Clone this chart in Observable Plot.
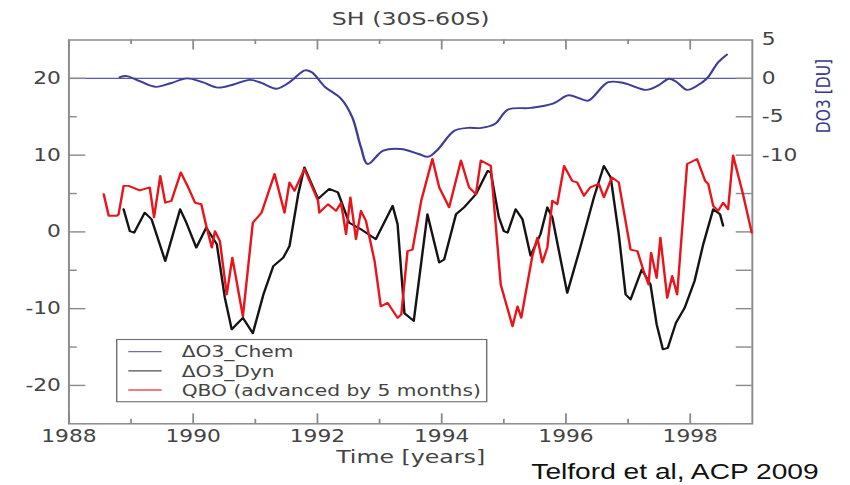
<!DOCTYPE html>
<html>
<head>
<meta charset="utf-8">
<script src="https://cdn.jsdelivr.net/npm/d3@7"></script>
<script src="https://cdn.jsdelivr.net/npm/@observablehq/plot@0.6"></script>
<style>
  html, body { margin: 0; padding: 0; background: #fff; }
  #chart { width: 850px; height: 485px; overflow: hidden; }
</style>
</head>
<body>
<div id="chart"></div>
<script>
// ΔO3 from chemistry (DU, right axis)
const chemYear = [1988.82, 1988.93, 1989.15, 1989.40, 1989.65, 1989.90, 1990.15, 1990.40, 1990.65, 1990.91,
  1991.10, 1991.34, 1991.55, 1991.80, 1991.91, 1992.12, 1992.38, 1992.56, 1992.70, 1992.81,
  1993.06, 1993.34, 1993.63, 1993.78, 1993.92, 1994.21, 1994.42, 1994.64, 1994.86, 1995.07,
  1995.43, 1995.79, 1996.04, 1996.22, 1996.36, 1996.68, 1996.93, 1997.29, 1997.48, 1997.66,
  1997.77, 1997.95, 1998.09, 1998.27, 1998.45, 1998.59];
const chemDU = [0.15, 0.3, -0.4, -1.1, -0.6, 0.0, -0.5, -1.2, -0.8, -0.2,
  -0.6, -1.35, -0.5, 1.05, 0.8, -1.1, -2.65, -5.06, -8.98, -11.15,
  -9.4, -9.2, -9.85, -10.2, -9.4, -6.8, -6.45, -6.45, -5.9, -4.05,
  -3.85, -3.3, -2.2, -2.6, -2.9, -0.5, -0.6, -1.5, -0.95, -0.05,
  -0.4, -1.5, -1.05, 0.0, 2.1, 3.1];

// ΔO3 from dynamics (left axis)
const dynYear = [1988.88, 1988.98, 1989.05, 1989.22, 1989.33, 1989.55, 1989.79, 1989.89, 1990.05, 1990.21,
  1990.38, 1990.51, 1990.62, 1990.80, 1990.96, 1991.13, 1991.29, 1991.45, 1991.55, 1991.69,
  1991.79, 1992.01, 1992.19, 1992.33, 1992.51, 1992.70, 1992.94, 1993.21, 1993.29, 1993.40,
  1993.55, 1993.77, 1993.96, 1994.04, 1994.23, 1994.36, 1994.55, 1994.74, 1994.79, 1994.92,
  1995.00, 1995.06, 1995.19, 1995.30, 1995.43, 1995.59, 1995.70, 1995.78, 1996.02, 1996.23,
  1996.45, 1996.61, 1996.72, 1996.85, 1996.96, 1997.04, 1997.22, 1997.36, 1997.46, 1997.56,
  1997.64, 1997.77, 1997.91, 1998.07, 1998.21, 1998.37, 1998.48, 1998.53];
const dynVal = [2.95, 0.1, -0.1, 2.5, 1.65, -3.8, 2.95, 1.2, -2.05, 0.55,
  -1.6, -8.6, -12.7, -11.2, -13.2, -8.15, -4.45, -3.35, -1.85, 4.9,
  8.4, 4.3, 5.6, 5.15, 1.2, 0.35, -0.95, 3.4, 1.0, -10.6,
  -11.6, 2.3, -4.0, -3.6, 2.3, 3.2, 4.9, 7.95, 7.75, 1.9,
  0.1, -0.1, 2.95, 1.65, -3.1, -0.3, 3.2, 1.9, -7.95, -2.05,
  4.5, 8.6, 7.1, -0.3, -8.15, -8.8, -4.9, -6.85, -12.05, -15.3,
  -15.1, -11.85, -9.9, -6.4, -1.6, 2.95, 2.3, 0.8];

// QBO index, advanced by 5 months (left axis)
const qboYear = [1988.56, 1988.64, 1988.77, 1988.80, 1988.88, 1988.96, 1989.14, 1989.30, 1989.37, 1989.47,
  1989.55, 1989.65, 1989.80, 1989.92, 1990.03, 1990.13, 1990.21, 1990.30, 1990.35, 1990.43,
  1990.54, 1990.63, 1990.80, 1990.96, 1991.10, 1991.31, 1991.47, 1991.55, 1991.63, 1991.79,
  1992.01, 1992.03, 1992.17, 1992.30, 1992.38, 1992.46, 1992.53, 1992.62, 1992.70, 1992.78,
  1992.92, 1993.02, 1993.13, 1993.29, 1993.35, 1993.45, 1993.53, 1993.67, 1993.85, 1993.96,
  1994.12, 1994.31, 1994.44, 1994.55, 1994.63, 1994.79, 1994.95, 1995.14, 1995.22, 1995.28,
  1995.46, 1995.54, 1995.62, 1995.70, 1995.78, 1995.86, 1995.97, 1996.10, 1996.18, 1996.29,
  1996.39, 1996.53, 1996.61, 1996.74, 1996.85, 1997.04, 1997.15, 1997.25, 1997.33, 1997.37,
  1997.46, 1997.52, 1997.63, 1997.71, 1997.79, 1997.95, 1998.11, 1998.24, 1998.29, 1998.37,
  1998.45, 1998.53, 1998.61, 1998.69, 1998.85, 1998.99];
const qboVal = [4.9, 2.1, 2.1, 2.3, 6.0, 6.0, 5.4, 5.8, 1.9, 7.3,
  3.8, 4.05, 7.75, 5.8, 3.8, 3.6, 0.8, -2.05, 0.1, -1.2,
  -8.15, -3.35, -11.0, 1.2, 2.5, 7.55, 2.5, 6.45, 5.35, 8.2,
  4.05, 2.5, 3.6, 2.75, 3.8, -0.3, 4.5, -0.95, 2.75, 1.45,
  -3.8, -9.7, -9.25, -11.2, -10.75, -2.5, -2.3, 4.05, 9.5, 5.8,
  3.2, 9.3, 5.8, 4.9, 9.3, 8.6, -6.85, -12.3, -9.7, -11.2,
  -3.1, -0.75, -4.0, -2.05, 4.05, 3.6, 8.6, 6.65, 6.45, 4.7,
  5.8, 6.25, 4.5, 7.1, 6.45, -2.3, -2.5, -5.1, -6.85, -2.7,
  -6.0, -0.75, -8.6, -5.75, -8.15, 8.85, 9.5, 6.65, 6.25, 3.4,
  2.75, 3.8, 2.95, 9.95, 4.9, -0.1];

const yearTicks = [1988, 1990, 1992, 1994, 1996, 1998];
const yearMinor = [1989, 1991, 1993, 1995, 1997];
const leftTicks = [-20, -10, 0, 10, 20];
const leftMinor = [-15, -5, 5, 15];
const rightTicksDU = [5, 0, -5, -10];
const rightMarksDU = [0, -5, -10, -15, -20, -25, -30, -35, -40];

const seriesNames = ["ΔO3_Chem", "ΔO3_Dyn", "QBO (advanced by 5 months)"];
const seriesColors = ["#3e3e98", "#141414", "#e8161c"];
const titleText = "SH (30S-60S)";
const xLabel = "Time [years]";
const rightLabel = "DO3 [DU]";
const creditText = "Telford et al, ACP 2009";

// DU 0 on the right axis sits at 20 on the left axis (same units per tick)
const DU_OFFSET = 20;

const chem = chemYear.map((t, i) => ({t, v: chemDU[i] + DU_OFFSET}));
const dyn = dynYear.map((t, i) => ({t, v: dynVal[i]}));
const qbo = qboYear.map((t, i) => ({t, v: qboVal[i]}));

// The figure is drawn narrower and widened to 850px, giving its broad lettering
const SX = 1.28;
const px = (v) => v / SX;          // horizontal pixel length in drawing units
const W = 850 / SX, H = 485;
const mL = px(68.3), mR = px(850 - 751.7), mT = 39.5, mB = H - 423.3;
const FW = W - mL - mR, FH = H - mT - mB;

const tickStyle = {stroke: "#8a8a8a", strokeWidth: 1.4};
const lineWidth = 1.9;

const plot = Plot.plot({
  width: W,
  height: H,
  marginLeft: mL,
  marginRight: mR,
  marginTop: mT,
  marginBottom: mB,
  x: {domain: [1988, 1999]},
  y: {domain: [-25, 25]},
  style: {fontFamily: "'DejaVu Sans', sans-serif", fontSize: "17px", color: "#444", background: "#fff"},
  marks: [
    Plot.ruleY([0], {y: (d) => d + DU_OFFSET, stroke: "#5a5aa8", strokeWidth: 1.1}),
    // inward tick marks on all four sides
    Plot.ruleY(leftTicks, {...tickStyle, insetRight: FW - px(17)}),
    Plot.ruleY(leftMinor, {...tickStyle, insetRight: FW - px(8.5)}),
    Plot.ruleY(rightMarksDU, {...tickStyle, y: (d) => d + DU_OFFSET, insetLeft: FW - px(16)}),
    Plot.ruleX(yearTicks, {...tickStyle, insetTop: FH - 10}),
    Plot.ruleX(yearMinor, {...tickStyle, insetTop: FH - 4.5}),
    Plot.ruleX(yearTicks, {...tickStyle, insetBottom: FH - 10}),
    Plot.ruleX(yearMinor, {...tickStyle, insetBottom: FH - 4.5}),
    Plot.frame({stroke: "#8a8a8a", strokeWidth: 1.5}),
    Plot.axisY({anchor: "left", ticks: leftTicks, tickFormat: (d) => String(d), tickSize: 0,
      tickPadding: px(8), label: null, fontSize: 17, fill: "#444"}),
    Plot.axisY({anchor: "right", ticks: rightTicksDU.map((d) => d + DU_OFFSET),
      tickFormat: (d) => String(d - DU_OFFSET), tickSize: 0, tickPadding: px(9.5),
      label: null, fontSize: 17, fill: "#444"}),
    Plot.axisX({anchor: "bottom", ticks: yearTicks, tickFormat: (d) => String(d), tickSize: 0,
      tickPadding: 6, label: null, fontSize: 17, fill: "#444"}),
    Plot.line(chem, {x: "t", y: "v", stroke: seriesColors[0], strokeWidth: lineWidth, curve: "catmull-rom"}),
    Plot.line(dyn, {x: "t", y: "v", stroke: seriesColors[1], strokeWidth: lineWidth}),
    Plot.line(qbo, {x: "t", y: "v", stroke: seriesColors[2], strokeWidth: lineWidth}),
    Plot.text([titleText], {frameAnchor: "top", lineAnchor: "middle", textAnchor: "middle",
      dy: -20.5, fontSize: 18.5, fill: "#444"}),
    Plot.text([xLabel], {frameAnchor: "bottom", lineAnchor: "middle", textAnchor: "middle",
      dy: 33.5, fontSize: 18.5, fill: "#444"}),
    Plot.text([rightLabel], {frameAnchor: "top-right", lineAnchor: "middle", textAnchor: "middle",
      dx: px(823.5 - 751.7), dy: 56, rotate: -90, fontSize: 15.5, fill: "#3a3a8c"}),
    Plot.text([creditText], {frameAnchor: "bottom-right", lineAnchor: "middle", textAnchor: "end",
      dx: px(818 - 751.7), dy: 48, fontFamily: "'Liberation Sans', Arial, sans-serif",
      fontSize: 22, fill: "#111"})
  ]
});

// Legend box with line swatches
const svg = d3.select(plot);
const lg = svg.append("g")
  .attr("font-family", "'DejaVu Sans', sans-serif")
  .attr("font-size", 15.8)
  .attr("text-anchor", "start")
  .attr("fill", "#444");
lg.append("rect")
  .attr("x", px(116.7)).attr("y", 339.5)
  .attr("width", px(486.7 - 116.7)).attr("height", 62.2)
  .attr("fill", "#fff").attr("stroke", "#707070").attr("stroke-width", 1.1);
seriesNames.forEach((name, i) => {
  const y = 351.7 + i * 19.15;
  lg.append("line")
    .attr("x1", px(128.3)).attr("x2", px(161.7)).attr("y1", y).attr("y2", y)
    .attr("stroke", seriesColors[i]).attr("stroke-width", 1.3).attr("stroke-opacity", 0.75);
  lg.append("text")
    .attr("x", px(181.7)).attr("y", y).attr("dy", "0.36em")
    .attr("text-anchor", "start")
    .text(name);
});

plot.setAttribute("width", 850);
plot.setAttribute("height", 485);
plot.setAttribute("preserveAspectRatio", "none");
plot.style.width = "850px";
plot.style.height = "485px";
plot.style.maxWidth = "none";
document.getElementById("chart").appendChild(plot);
</script>
</body>
</html>
